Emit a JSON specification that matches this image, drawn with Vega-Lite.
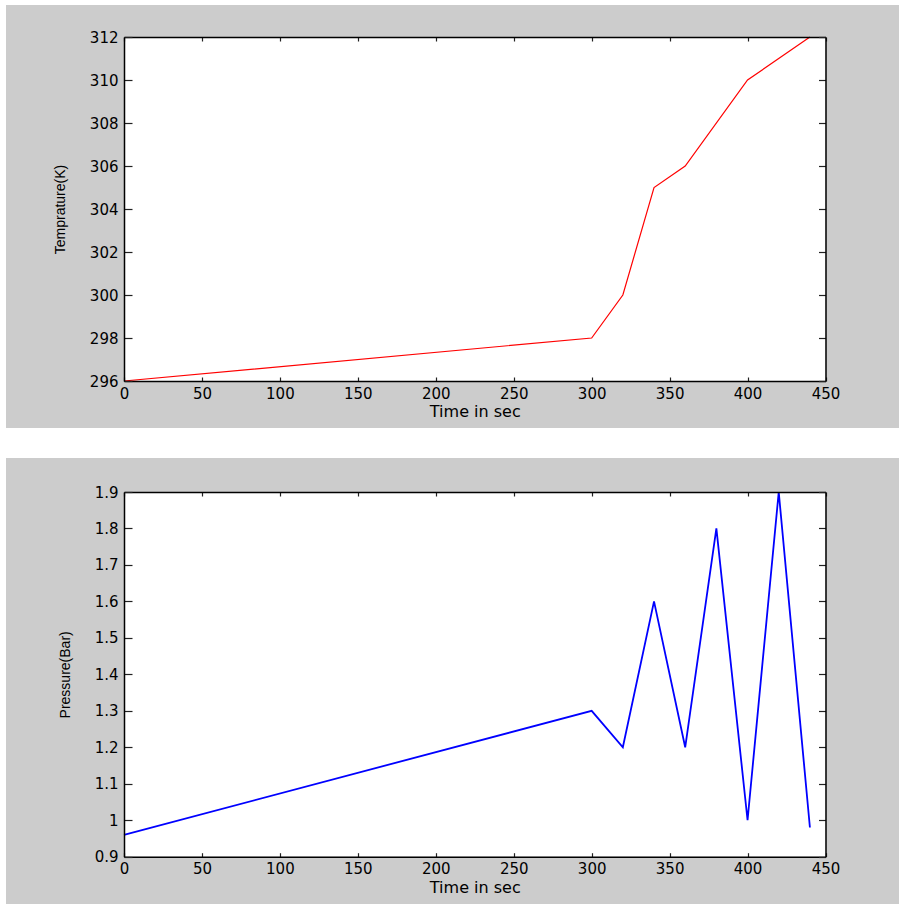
{
  "$schema": "https://vega.github.io/schema/vega-lite/v6.json",
  "background": "white",
  "padding": {"left": 6, "top": 5, "right": 0, "bottom": 0},
  "spacing": 30,
  "config": {
    "view": {"stroke": null, "fill": "#CCCCCC"},
    "axis": {
      "grid": false,
      "ticks": true,
      "domainColor": "black",
      "domainWidth": 1.5,
      "tickColor": "#222222",
      "tickWidth": 1.2,
      "labelFont": "DejaVu Sans",
      "labelFontSize": 15,
      "labelColor": "black",
      "labelFlush": false,
      "labelOverlap": false,
      "labelBound": false,
      "titleFont": "Liberation Sans",
      "titleFontSize": 14,
      "titleFontWeight": "normal",
      "titleColor": "black"
    }
  },
  "datasets": {
    "temp": [
      {"time": 0, "temp": 296},
      {"time": 300, "temp": 298},
      {"time": 320, "temp": 300},
      {"time": 340, "temp": 305},
      {"time": 360, "temp": 306},
      {"time": 400, "temp": 310},
      {"time": 440, "temp": 312}
    ],
    "pres": [
      {"time": 0, "pressure": 0.96},
      {"time": 300, "pressure": 1.3},
      {"time": 320, "pressure": 1.2},
      {"time": 340, "pressure": 1.6},
      {"time": 360, "pressure": 1.2},
      {"time": 380, "pressure": 1.8},
      {"time": 400, "pressure": 1.0},
      {"time": 420, "pressure": 1.9},
      {"time": 440, "pressure": 0.98}
    ]
  },
  "vconcat": [
    {
      "width": 893,
      "height": 423,
      "layer": [
        {
          "data": {"values": [{}]},
          "mark": {"type": "rect", "fill": "white"},
          "encoding": {
            "x": {"datum": 0, "type": "quantitative",
              "scale": {"domain": [0, 450], "range": [118, 819.5], "nice": false, "zero": false},
              "axis": {"orient": "top", "offset": -32, "labels": false, "title": null, "zindex": 2,
                "values": [0, 50, 100, 150, 200, 250, 300, 350, 400, 450], "tickSize": -4}},
            "x2": {"datum": 450},
            "y": {"datum": 296, "type": "quantitative",
              "scale": {"domain": [296, 312], "range": [376, 32], "nice": false, "zero": false},
              "axis": {"orient": "right", "offset": -73.5, "labels": false, "title": null, "zindex": 2,
                "values": [296, 298, 300, 302, 304, 306, 308, 310, 312], "tickSize": -7}},
            "y2": {"datum": 312}
          }
        },
        {
          "data": {"name": "temp"},
          "mark": {"type": "line", "color": "#FF0000", "strokeWidth": 1.2},
          "encoding": {
            "x": {"field": "time", "type": "quantitative",
              "axis": {"orient": "bottom", "offset": -47, "title": "Time in sec", "zindex": 2,
                "titleFont": "DejaVu Sans", "titleFontSize": 16, "titlePadding": 2,
                "values": [0, 50, 100, 150, 200, 250, 300, 350, 400, 450],
                "tickSize": -4, "labelPadding": 9}},
            "y": {"field": "temp", "type": "quantitative",
              "axis": {"orient": "left", "offset": -118, "title": "Temprature(K)", "zindex": 2,
                "titlePadding": 22,
                "values": [296, 298, 300, 302, 304, 306, 308, 310, 312],
                "tickSize": -8, "labelPadding": 14}}
          }
        }
      ],
      "resolve": {"axis": {"x": "independent", "y": "independent"}}
    },
    {
      "width": 893,
      "height": 446,
      "layer": [
        {
          "data": {"values": [{}]},
          "mark": {"type": "rect", "fill": "white"},
          "encoding": {
            "x": {"datum": 0, "type": "quantitative",
              "scale": {"domain": [0, 450], "range": [118, 819.5], "nice": false, "zero": false},
              "axis": {"orient": "top", "offset": -34, "labels": false, "title": null, "zindex": 2,
                "values": [0, 50, 100, 150, 200, 250, 300, 350, 400, 450], "tickSize": -4}},
            "x2": {"datum": 450},
            "y": {"datum": 0.9, "type": "quantitative",
              "scale": {"domain": [0.9, 1.9], "range": [398.7, 34], "nice": false, "zero": false},
              "axis": {"orient": "right", "offset": -73.5, "labels": false, "title": null, "zindex": 2,
                "values": [0.9, 1.0, 1.1, 1.2, 1.3, 1.4, 1.5, 1.6, 1.7, 1.8, 1.9], "tickSize": -7}},
            "y2": {"datum": 1.9}
          }
        },
        {
          "data": {"name": "pres"},
          "mark": {"type": "line", "color": "#0000FF", "strokeWidth": 1.8},
          "encoding": {
            "x": {"field": "time", "type": "quantitative",
              "axis": {"orient": "bottom", "offset": -47.3, "title": "Time in sec", "zindex": 2,
                "titleFont": "DejaVu Sans", "titleFontSize": 16, "titlePadding": 3,
                "values": [0, 50, 100, 150, 200, 250, 300, 350, 400, 450],
                "tickSize": -4, "labelPadding": 9}},
            "y": {"field": "pressure", "type": "quantitative",
              "axis": {"orient": "left", "offset": -118, "title": "Pressure(Bar)", "zindex": 2,
                "titlePadding": 22, "format": "~g",
                "values": [0.9, 1.0, 1.1, 1.2, 1.3, 1.4, 1.5, 1.6, 1.7, 1.8, 1.9],
                "tickSize": -8, "labelPadding": 14}}
          }
        }
      ],
      "resolve": {"axis": {"x": "independent", "y": "independent"}}
    }
  ]
}
